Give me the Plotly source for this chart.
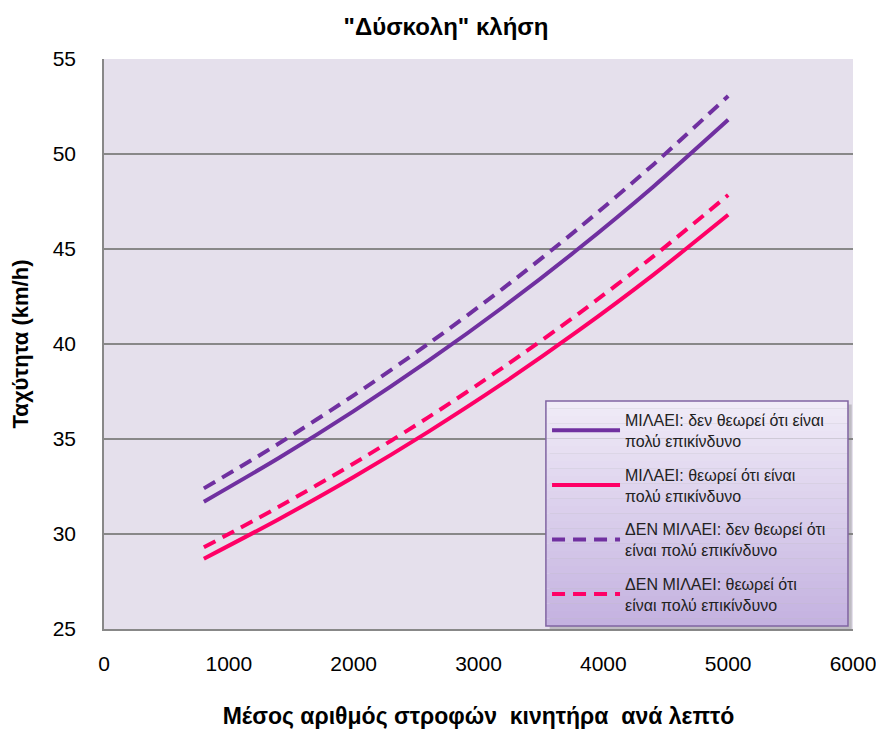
import plotly.graph_objects as go

rpm = [800, 1400, 2000, 2600, 3200, 3800, 4400, 5000]
talk_not_danger = [31.7, 34.0, 36.47, 39.12, 41.96, 45.01, 48.28, 51.8]
talk_danger = [28.7, 30.78, 33.0, 35.39, 37.95, 40.70, 43.64, 46.8]
notalk_not_danger = [32.4, 34.76, 37.30, 40.02, 42.94, 46.08, 49.44, 53.05]
notalk_danger = [29.3, 31.43, 33.71, 36.15, 38.78, 41.59, 44.61, 47.84]

names = [
    "ΜΙΛΑΕΙ: δεν θεωρεί ότι είναι<br>πολύ επικίνδυνο",
    "ΜΙΛΑΕΙ: θεωρεί ότι είναι<br>πολύ επικίνδυνο",
    "ΔΕΝ ΜΙΛΑΕΙ: δεν θεωρεί ότι<br>είναι πολύ επικίνδυνο",
    "ΔΕΝ ΜΙΛΑΕΙ: θεωρεί ότι<br>είναι πολύ επικίνδυνο",
]
series = [talk_not_danger, talk_danger, notalk_not_danger, notalk_danger]
colors = ["#7030A0", "#FF0066", "#7030A0", "#FF0066"]
dashes = ["solid", "solid", "13px,8px", "13px,8px"]

fig = go.Figure()
for i, (nm, ys, c, d) in enumerate(zip(names, series, colors, dashes)):
    fig.add_trace(go.Scatter(
        x=rpm, y=ys, name=nm, mode="lines", legendgroup=f"g{i}",
        line=dict(color=c, width=4, dash=d, shape="spline", smoothing=0.8),
    ))

# legend background (simulated gradient) + shadow
lx0, lx1, ly0, ly1 = 0.590, 0.9933, 0.0053, 0.40
fig.add_shape(type="rect", xref="paper", yref="paper",
              x0=lx0 + 0.005, x1=lx1 + 0.005, y0=ly0 - 0.006, y1=ly1 - 0.006,
              fillcolor="rgba(120,120,120,0.35)", line=dict(width=0), layer="above")
n = 30
top = (240, 235, 247)
bot = (196, 178, 224)
for k in range(n):
    t = k / (n - 1)
    col = tuple(int(round(top[j] + (bot[j] - top[j]) * t)) for j in range(3))
    ya = ly1 - (ly1 - ly0) * k / n
    yb = ly1 - (ly1 - ly0) * (k + 1) / n
    fig.add_shape(type="rect", xref="paper", yref="paper",
                  x0=lx0, x1=lx1, y0=yb, y1=ya,
                  fillcolor="rgb(%d,%d,%d)" % col, line=dict(width=0), layer="above")
fig.add_shape(type="rect", xref="paper", yref="paper",
              x0=lx0, x1=lx1, y0=ly0, y1=ly1,
              fillcolor="rgba(0,0,0,0)", line=dict(color="#8064A2", width=1.5), layer="above")

fig.update_layout(
    width=876, height=723,
    margin=dict(l=96, r=31, t=51, b=102, autoexpand=False),
    paper_bgcolor="white",
    plot_bgcolor="#E5E0EC",
    font=dict(family="Liberation Sans, Arial", size=17, color="black"),
    title=dict(text="<b>\"Δύσκολη\" κλήση</b>", x=0.5, xanchor="center",
               y=0.974, yanchor="middle", font=dict(size=24)),
    showlegend=True,
    legend=dict(x=0.5915, y=0.3965, xanchor="left", yanchor="top",
                bgcolor="rgba(0,0,0,0)", borderwidth=0,
                font=dict(size=16, color="#222"), tracegroupgap=10,
                traceorder="grouped", itemwidth=68),
    xaxis=dict(range=[0, 6000], dtick=1000, showgrid=False, zeroline=False,
               showline=True, linecolor="#888888", linewidth=1.5,
               ticks="", ticklabelstandoff=15, automargin=False,
               tickfont=dict(size=21),
               title=dict(text="<b>Μέσος αριθμός στροφών\u00a0 κινητήρα\u00a0 ανά λεπτό</b>",
                          font=dict(size=23), standoff=34)),
    yaxis=dict(range=[25, 55], dtick=5, showgrid=True, gridcolor="#888888",
               gridwidth=1.5, zeroline=False, showline=True,
               linecolor="#888888", linewidth=1.5, ticks="",
               ticklabelstandoff=22, automargin=False,
               tickfont=dict(size=21),
               title=dict(text="<b>Ταχύτητα (km/h)</b>", font=dict(size=22),
                          standoff=18)),
)

fig.write_html("out.html")
